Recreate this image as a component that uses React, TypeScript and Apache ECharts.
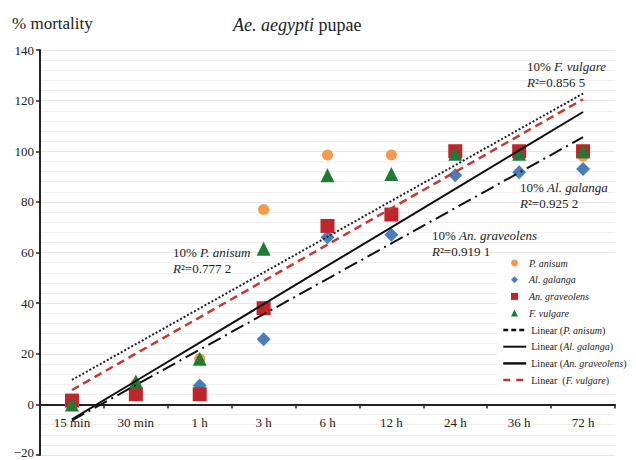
import React, { useEffect, useRef } from 'react';
import * as echarts from 'echarts';

const FONT = 'Liberation Serif';

const categories = ['15 min', '30 min', '1 h', '3 h', '6 h', '12 h', '24 h', '36 h', '72 h'];
const speciesNames = ['P. anisum', 'Al. galanga', 'An. graveolens', 'F. vulgare'];

const pAnisum = [0, 8, 18, 77, 98.5, 98.5, 99, 99, 98];
const alGalanga = [0, 5, 7.5, 25.7, 66, 67, 90.5, 91.7, 93];
const anGraveolens = [1.5, 4, 4, 38, 70.5, 75, 100, 100, 100];
const fVulgare = [0, 9, 18, 61.5, 90.5, 91, 99, 99, 100];

const yMin = -20;
const yMax = 140;
const yInterval = 20;

const annotationSpecies = ['F. vulgare', 'Al. galanga', 'An. graveolens', 'P. anisum'];
const annotationR2 = ['0.856 5', '0.925 2', '0.919 1', '0.777 2'];

const markerColors = ['#F39A4C', '#4A7EBB', '#BF262B', '#1E7A34'];
const markerSymbols = ['circle', 'diamond', 'rect', 'triangle'];
const markerSizes = [11, 14, 14, 14];

function linearFit(values: number[]): number[] {
  const n = values.length;
  const xs = values.map((_, i) => i + 1);
  const mx = xs.reduce((a, b) => a + b, 0) / n;
  const my = values.reduce((a, b) => a + b, 0) / n;
  let sxy = 0;
  let sxx = 0;
  for (let i = 0; i < n; i++) {
    sxy += (xs[i] - mx) * (values[i] - my);
    sxx += (xs[i] - mx) * (xs[i] - mx);
  }
  const slope = sxy / sxx;
  const intercept = my - slope * mx;
  return xs.map((x) => +(intercept + slope * x).toFixed(3));
}

const GRID_TOP = 50;
const GRID_BOTTOM = 5;
const CHART_H = 460;

export default function App() {
  const ref = useRef<HTMLDivElement>(null);

  useEffect(() => {
    if (!ref.current) return;
    const chart = echarts.init(ref.current, undefined, { renderer: 'svg' });
    const dataSets = [pAnisum, alGalanga, anGraveolens, fVulgare];
    const lineStyles: any[] = [
      { color: '#222', width: 2, type: [2, 2] },
      { color: '#111', width: 2, type: [14, 5, 2, 5] },
      { color: '#111', width: 2 },
      { color: '#C23B32', width: 2.5, type: [8, 5] },
    ];
    const legendLineStyles: any[] = [
      { color: '#111', width: 2.5, type: [5, 3] },
      { color: '#111', width: 2, type: 'solid' },
      { color: '#111', width: 2.5, type: 'solid' },
      { color: '#B8383A', width: 2.5, type: [7, 6] },
    ];
    const lineNames = speciesNames.map((n) => `Linear (${n})`);

    const scatterSeries = speciesNames.map((name, i) => ({
      name,
      type: 'scatter',
      data: dataSets[i],
      symbol: markerSymbols[i],
      symbolSize: markerSizes[i],
      itemStyle: { color: markerColors[i], opacity: 1 },
      z: 2,
    }));
    const lineSeries = speciesNames.map((name, i) => ({
      name: lineNames[i],
      type: 'line',
      data: linearFit(dataSets[i]),
      symbol: 'none',
      showSymbol: false,
      lineStyle: lineStyles[i],
      itemStyle: { color: lineStyles[i].color },
      z: 3,
    }));

    const rich = (size: number, lh: number, fam: string = FONT) => ({
      i: { fontStyle: 'italic', fontWeight: 'normal', fontFamily: fam, fontSize: size, color: '#222', lineHeight: lh },
      n: { fontStyle: 'normal', fontWeight: 'normal', fontFamily: fam, fontSize: size, color: '#222', lineHeight: lh },
      b: { fontStyle: 'normal', fontWeight: 'normal', fontFamily: fam, fontSize: size, color: '#222', lineHeight: lh, padding: [0, 0, 6, 0] },
    });

    const annotationPos = [
      [527, 58],
      [520, 179],
      [432, 227],
      [173, 244],
    ];

    const plotH = CHART_H - GRID_TOP - GRID_BOTTOM;
    const zeroOffset = ((0 - yMin) / (yMax - yMin)) * plotH;

    const titleBase = { padding: 0, itemGap: 0, z: 10 };

    const option: any = {
      animation: false,
      textStyle: { fontFamily: FONT },
      title: [
        {
          ...titleBase,
          text: '{n|% mortality}',
          left: 12,
          top: 13,
          textStyle: { fontFamily: FONT, fontSize: 17, fontWeight: 'normal', color: '#222', rich: rich(17, 20) },
        },
        {
          ...titleBase,
          text: '{i|Ae. aegypti} {n|pupae}',
          left: 233,
          top: 15,
          textStyle: { fontFamily: FONT, fontSize: 18, fontWeight: 'normal', color: '#222', rich: rich(18, 20) },
        },
        ...annotationSpecies.map((sp, i) => ({
          ...titleBase,
          text: `{n|10% }{i|${sp}}\n{i|R}{n|\u00B2=${annotationR2[i]}}`,
          left: annotationPos[i][0],
          top: annotationPos[i][1],
          textStyle: { fontFamily: FONT, fontSize: 13, fontWeight: 'normal', color: '#222', rich: rich(13, 16.5) },
        })),
      ],
      grid: { left: 40, right: 21, top: GRID_TOP, bottom: GRID_BOTTOM, containLabel: false, outerBoundsMode: 'none' },
      xAxis: {
        type: 'category',
        data: categories,
        boundaryGap: true,
        position: 'bottom',
        offset: -zeroOffset,
        axisLine: { onZero: false, lineStyle: { color: '#222', width: 2 } },
        axisTick: { show: true, length: 4, lineStyle: { color: '#222', width: 1.5 } },
        axisLabel: { fontFamily: FONT, fontSize: 13, color: '#222', margin: 12 },
        splitLine: { show: false },
      },
      yAxis: {
        type: 'value',
        min: yMin,
        max: yMax,
        interval: yInterval,
        axisLine: { show: true, lineStyle: { color: '#222', width: 2 } },
        axisTick: { show: true, length: 4, lineStyle: { color: '#222', width: 1.5 } },
        axisLabel: {
          fontFamily: FONT,
          fontSize: 13,
          color: '#222',
          margin: 6,
          formatter: (v: number) =>
            v === yMin ? `{b|${String(v).replace('-', '\u2212')}}` : `{n|${v}}`,
          rich: rich(13, 15),
        },
        splitLine: { show: true, lineStyle: { color: '#E6E6E6', width: 1 } },
        minorTick: { show: false, splitNumber: 5 },
        minorSplitLine: { show: true, lineStyle: { color: '#EEEEEE', width: 1 } },
      },
      legend: [
        {
          data: speciesNames.map((n) => ({ name: n })),
          orient: 'vertical',
          left: 511,
          top: 257,
          padding: 0,
          itemWidth: 7,
          itemHeight: 7,
          itemGap: 4.7,
          selectedMode: false,
          textStyle: {
            fontFamily: FONT,
            fontStyle: 'italic',
            fontSize: 10,
            color: '#222',
            lineHeight: 12,
            padding: [0, 0, 0, 6],
          },
        },
        {
          data: lineNames.map((n, i) => ({
            name: n,
            lineStyle: legendLineStyles[i],
            itemStyle: { color: 'rgba(0,0,0,0)', borderWidth: 0, opacity: 0 },
          })),
          orient: 'vertical',
          left: 502,
          top: 324,
          padding: 0,
          itemWidth: 23,
          itemHeight: 8,
          itemGap: 4.7,
          selectedMode: false,
          formatter: (n: string) => {
            const m = n.match(/^Linear \((.*)\)$/);
            const sp = m ? m[1] : n;
            const gap = sp === 'F. vulgare' ? '  ' : ' ';
            return `{n|Linear${gap}(}{i|${sp}}{n|)}`;
          },
          textStyle: {
            fontFamily: FONT,
            fontSize: 10,
            color: '#222',
            lineHeight: 12,
            rich: rich(10, 12),
          },
        },
      ],
      graphic: [
        {
          type: 'rect',
          z: 1,
          silent: true,
          shape: { x: 497, y: 255, width: 136, height: 138 },
          style: { fill: '#fff' },
        },
      ],
      series: [...scatterSeries, ...lineSeries],
    };
    chart.setOption(option);
    return () => chart.dispose();
  }, []);

  return <div ref={ref} style={{ width: 636, height: 460, marginLeft: -8, marginTop: -8 }} />;
}
